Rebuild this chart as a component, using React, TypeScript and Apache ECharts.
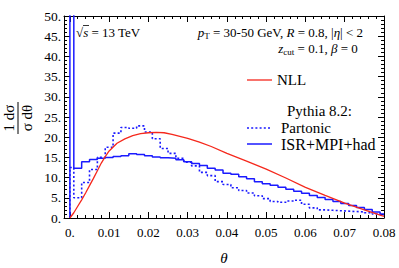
import React, { useEffect, useRef } from 'react';
import * as echarts from 'echarts';

// NLL curve (theta, 1/sigma dsigma/dtheta)
const THETA_NLL = [0, 0.001, 0.002, 0.003, 0.004, 0.005, 0.006, 0.007, 0.008, 0.009, 0.010, 0.012, 0.014, 0.016, 0.018, 0.020, 0.022, 0.024, 0.026, 0.028, 0.030, 0.033, 0.036, 0.040, 0.045, 0.050, 0.055, 0.060, 0.065, 0.070, 0.075, 0.080];
const NLL = [0, 1.3, 2.9, 4.5, 6.2, 8.0, 9.8, 11.7, 13.6, 15.2, 16.6, 18.5, 19.6, 20.4, 20.9, 21.1, 21.2, 21.1, 20.7, 20.2, 19.7, 18.8, 17.7, 16.0, 14.1, 12.1, 9.9, 7.6, 5.6, 3.7, 2.0, 0.4];

// Histogram bin edges (theta)
const BIN_EDGES = [0, 0.001, 0.003, 0.005, 0.007, 0.009, 0.011, 0.013, 0.015, 0.017, 0.019, 0.021, 0.023, 0.025, 0.027, 0.029, 0.031, 0.033, 0.035, 0.037, 0.039, 0.041, 0.043, 0.045, 0.047, 0.049, 0.051, 0.053, 0.055, 0.057, 0.059, 0.061, 0.063, 0.065, 0.067, 0.069, 0.071, 0.073, 0.075, 0.077, 0.079, 0.080];
// Pythia 8.2: ISR+MPI+had
const ISR_MPI_HAD = [200, 12.3, 13.9, 14.5, 14.8, 15.0, 15.2, 15.4, 15.9, 15.7, 15.4, 15.1, 14.9, 14.8, 14.4, 13.9, 13.5, 13.0, 12.3, 11.9, 11.1, 10.8, 10.2, 9.7, 9.0, 8.5, 8.1, 7.6, 7.1, 6.6, 6.1, 5.6, 5.1, 4.6, 4.1, 3.6, 3.1, 2.6, 2.1, 1.5, 1.0];
// Pythia 8.2: Partonic
const PARTONIC = [12.5, 5.0, 8.8, 12.0, 15.0, 17.5, 21.0, 22.4, 22.2, 22.8, 21.3, 19.6, 17.2, 16.0, 14.8, 13.8, 12.9, 11.3, 10.5, 9.0, 8.3, 7.5, 6.8, 6.2, 5.5, 4.8, 4.1, 3.9, 4.2, 4.4, 3.4, 2.5, 2.0, 1.9, 1.8, 1.7, 1.6, 1.5, 1.3, 1.0, 0.8];

// Axis ticks
const X_MIN = -0.0015;
const X_MAX = 0.08;
const X_MAJOR = [0, 0.01, 0.02, 0.03, 0.04, 0.05, 0.06, 0.07, 0.08];
const X_MINOR = [0.002, 0.004, 0.006, 0.008, 0.012, 0.014, 0.016, 0.018, 0.022, 0.024, 0.026, 0.028, 0.032, 0.034, 0.036, 0.038, 0.042, 0.044, 0.046, 0.048, 0.052, 0.054, 0.056, 0.058, 0.062, 0.064, 0.066, 0.068, 0.072, 0.074, 0.076, 0.078];
const Y_MIN = 0;
const Y_MAX = 50;
const Y_INTERVAL = 5;

const SERIF = 'Liberation Serif, Times New Roman, serif';
const RED = '#f5281c';
const BLUE = '#1a1aff';

function stepPoints(edges: number[], vals: number[]): number[][] {
  const pts: number[][] = [[edges[0], 0]];
  for (let i = 0; i < vals.length; i++) {
    pts.push([edges[i], vals[i]]);
    pts.push([edges[i + 1], vals[i]]);
  }
  return pts;
}

function buildOption(): any {
  const xBase = {
    type: 'value',
    min: X_MIN,
    max: X_MAX,
    splitLine: { show: false },
  };
  const tickMajor = (vals: number[]) => ({ show: true, inside: true, length: 6, customValues: vals, lineStyle: { color: '#000', width: 1 } });
  const tickMinor = (vals: number[]) => ({ show: true, inside: true, length: 3, customValues: vals, lineStyle: { color: '#000', width: 1 } });
  const yTick = { show: true, inside: true, length: 6, lineStyle: { color: '#000', width: 1 } };
  const yMinor = { show: true, splitNumber: 5, length: 3, lineStyle: { color: '#000', width: 1 } };
  const richText = (size: number) => ({
    r: { fontFamily: SERIF, fontSize: size, fill: '#000', lineHeight: 17 },
    i: { fontFamily: SERIF, fontSize: size, fontStyle: 'italic', fill: '#000', lineHeight: 17 },
    s: { fontFamily: SERIF, fontSize: 9, fill: '#000', verticalAlign: 'bottom', lineHeight: 10 },
  });

  return {
    animation: false,
    backgroundColor: '#fff',
    textStyle: { fontFamily: SERIF },
    grid: { left: 64, right: 15, top: 16, bottom: 50, outerBoundsMode: 'none' },
    xAxis: [
      {
        ...xBase,
        position: 'bottom',
        axisLine: { show: true, onZero: false, lineStyle: { color: '#000', width: 1 } },
        axisTick: tickMajor(X_MAJOR),
        axisLabel: {
          customValues: X_MAJOR,
          color: '#000',
          fontFamily: SERIF,
          fontSize: 13,
          margin: 8,
          formatter: (v: number) => (v === 0 ? '0.' : v.toFixed(2)),
        },
        name: 'θ',
        nameLocation: 'middle',
        nameGap: 32,
        nameTextStyle: { fontFamily: SERIF, fontStyle: 'italic', fontSize: 15, color: '#000' },
      },
      { ...xBase, position: 'bottom', axisLine: { show: false, onZero: false }, axisTick: tickMinor(X_MINOR), axisLabel: { show: false } },
      { ...xBase, position: 'top', axisLine: { show: true, onZero: false, lineStyle: { color: '#000', width: 1 } }, axisTick: tickMajor(X_MAJOR), axisLabel: { show: false } },
      { ...xBase, position: 'top', axisLine: { show: false, onZero: false }, axisTick: tickMinor(X_MINOR), axisLabel: { show: false } },
    ],
    yAxis: [
      {
        type: 'value',
        position: 'left',
        min: Y_MIN,
        max: Y_MAX,
        interval: Y_INTERVAL,
        splitLine: { show: false },
        axisLine: { show: true, onZero: false, lineStyle: { color: '#000', width: 1 } },
        axisTick: yTick,
        minorTick: yMinor,
        axisLabel: { color: '#000', fontFamily: SERIF, fontSize: 13.5, margin: 3, formatter: (v: number) => v + '.' },
      },
      {
        type: 'value',
        position: 'right',
        min: Y_MIN,
        max: Y_MAX,
        interval: Y_INTERVAL,
        splitLine: { show: false },
        axisLine: { show: true, onZero: false, lineStyle: { color: '#000', width: 1 } },
        axisTick: yTick,
        minorTick: yMinor,
        axisLabel: { show: false },
      },
    ],
    series: [
      {
        name: 'Partonic',
        type: 'line',
        xAxisIndex: 0,
        yAxisIndex: 0,
        data: stepPoints(BIN_EDGES, PARTONIC),
        showSymbol: false,
        symbol: 'none',
        clip: true,
        lineStyle: { color: BLUE, width: 1.6, type: [2, 2.2] },
        z: 2,
      },
      {
        name: 'ISR+MPI+had',
        type: 'line',
        xAxisIndex: 0,
        yAxisIndex: 0,
        data: stepPoints(BIN_EDGES, ISR_MPI_HAD),
        showSymbol: false,
        symbol: 'none',
        clip: true,
        lineStyle: { color: BLUE, width: 1.5 },
        z: 3,
      },
      {
        name: 'NLL',
        type: 'line',
        xAxisIndex: 0,
        yAxisIndex: 0,
        data: THETA_NLL.map((t, i) => [t, NLL[i]]),
        showSymbol: false,
        symbol: 'none',
        smooth: false,
        clip: true,
        lineStyle: { color: RED, width: 1.3 },
        z: 4,
      },
    ],
    graphic: [
      // y-axis title as a rotated fraction
      {
        type: 'group',
        x: 18,
        y: 118,
        rotation: Math.PI / 2,
        children: [
          { type: 'text', x: 0, y: -9, style: { text: '1 dσ', fontFamily: SERIF, fontSize: 15, fill: '#000', align: 'center', verticalAlign: 'middle' } },
          { type: 'line', shape: { x1: -16, y1: 0, x2: 16, y2: 0 }, style: { stroke: '#000', lineWidth: 1 } },
          { type: 'text', x: 0, y: 9, style: { text: 'σ dθ', fontFamily: SERIF, fontSize: 15, fill: '#000', align: 'center', verticalAlign: 'middle' } },
        ],
      },
      // sqrt(s) = 13 TeV
      {
        type: 'text',
        x: 76,
        y: 32,
        style: {
          text: '{r|√}{i|s}{r| = 13 TeV}',
          verticalAlign: 'middle',
          rich: richText(13),
        },
      },
      { type: 'line', shape: { x1: 83, y1: 25.5, x2: 89, y2: 25.5 }, style: { stroke: '#000', lineWidth: 0.8 } },
      {
        type: 'text',
        x: 363,
        y: 32,
        style: {
          text: '{i|p}{s|T}{r| = 30-50 GeV, }{i|R}{r| = 0.8, |}{i|η}{r|| < 2}',
          align: 'right',
          verticalAlign: 'middle',
          rich: richText(13),
        },
      },
      {
        type: 'text',
        x: 318,
        y: 48,
        style: {
          text: '{i|z}{s|cut}{r| = 0.1, }{i|β}{r| = 0}',
          align: 'center',
          verticalAlign: 'middle',
          rich: richText(13),
        },
      },
      // Legend
      { type: 'line', shape: { x1: 247, y1: 80, x2: 272, y2: 80 }, style: { stroke: RED, lineWidth: 1.3 } },
      { type: 'text', x: 277, y: 80, style: { text: 'NLL', fontFamily: SERIF, fontSize: 15, fill: '#000', verticalAlign: 'middle' } },
      { type: 'text', x: 287, y: 111, style: { text: 'Pythia 8.2:', fontFamily: SERIF, fontSize: 15, fill: '#000', verticalAlign: 'middle' } },
      { type: 'line', shape: { x1: 247, y1: 128, x2: 272, y2: 128 }, style: { stroke: BLUE, lineWidth: 1.6, lineDash: [2, 2.2] } },
      { type: 'text', x: 281, y: 128, style: { text: 'Partonic', fontFamily: SERIF, fontSize: 15, fill: '#000', verticalAlign: 'middle' } },
      { type: 'line', shape: { x1: 247, y1: 144, x2: 272, y2: 144 }, style: { stroke: BLUE, lineWidth: 1.5 } },
      { type: 'text', x: 281, y: 144, style: { text: 'ISR+MPI+had', fontFamily: SERIF, fontSize: 16, fill: '#000', verticalAlign: 'middle' } },
    ],
  };
}

export default function App() {
  const ref = useRef<HTMLDivElement>(null);
  useEffect(() => {
    document.body.style.margin = '0';
    if (!ref.current) return;
    const chart = echarts.init(ref.current, null, { renderer: 'svg' });
    chart.setOption(buildOption());
    return () => chart.dispose();
  }, []);
  return <div ref={ref} style={{ width: 399, height: 268 }} />;
}
